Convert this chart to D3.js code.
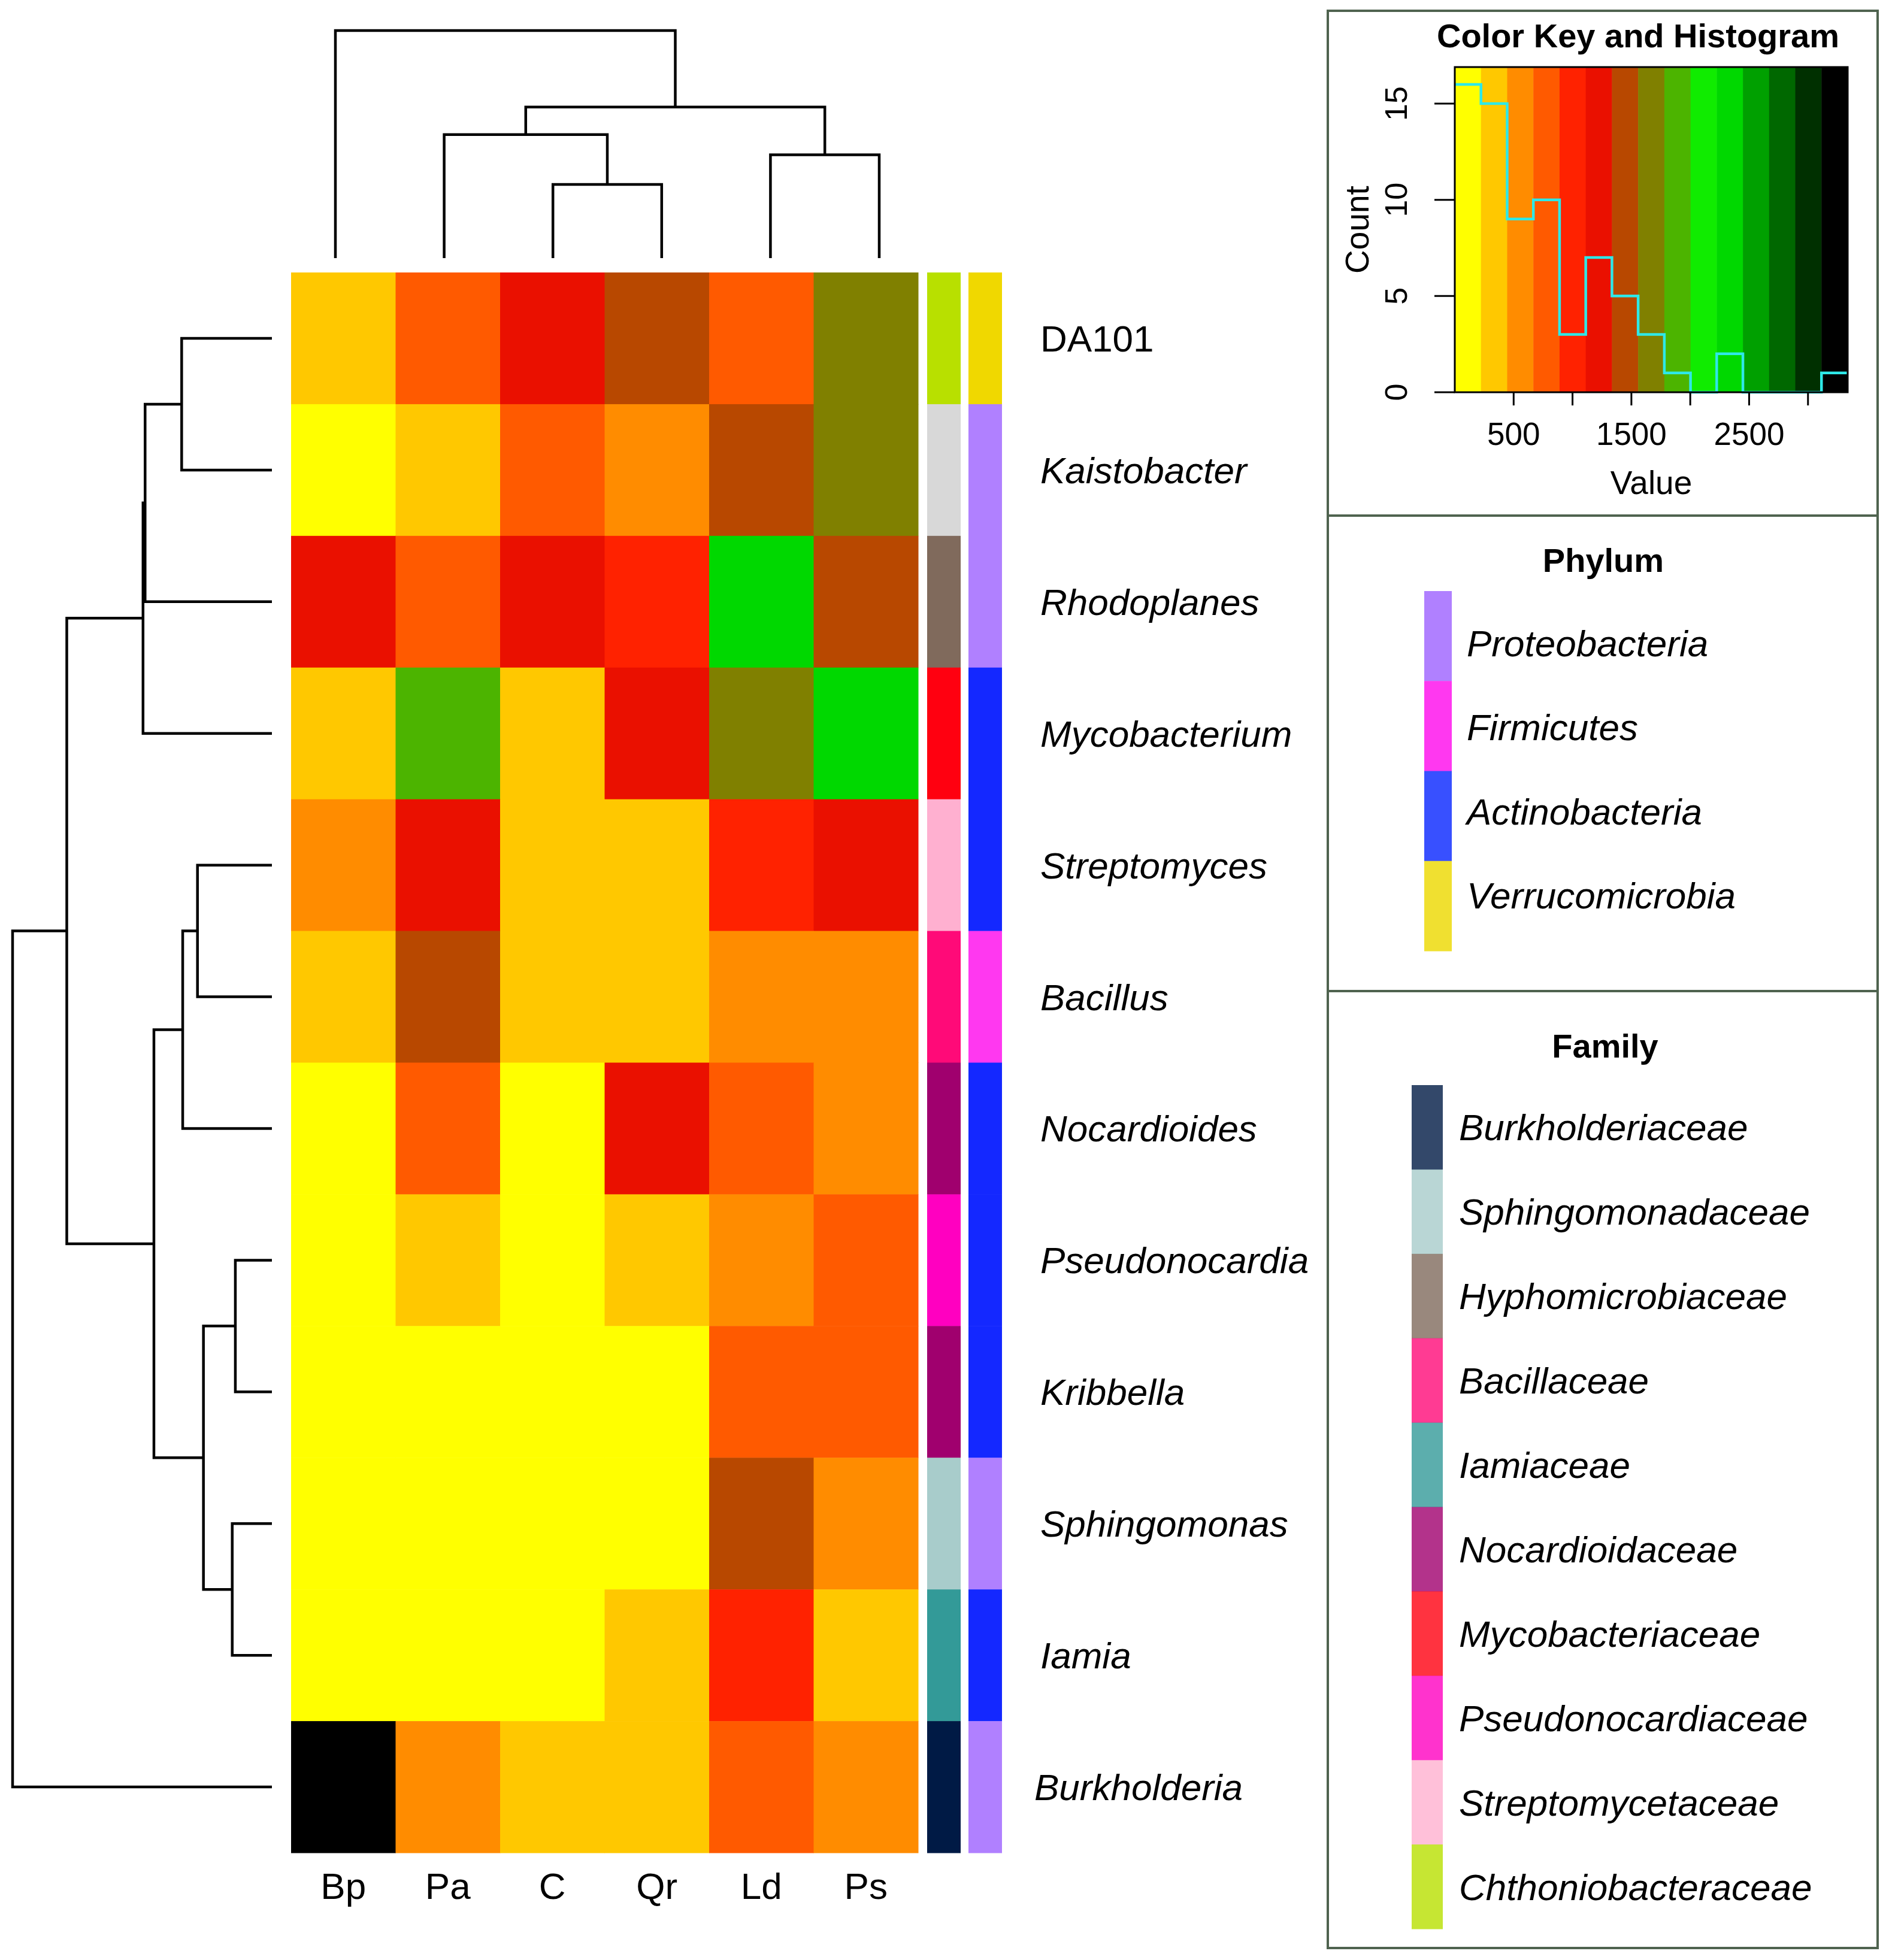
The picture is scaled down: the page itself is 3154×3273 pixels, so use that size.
<!DOCTYPE html>
<html><head><meta charset="utf-8">
<script src="https://cdn.jsdelivr.net/npm/d3@7"></script>
<style>
body{margin:0;background:#fff}
svg{display:block}
text{font-family:"Liberation Sans",Arial,Helvetica,sans-serif;fill:#000}
</style>
</head><body>
<svg id="chart" width="3154" height="3273"></svg>
<script>
// ---------------- DATA ----------------
const rowLabels = ["DA101","Kaistobacter","Rhodoplanes","Mycobacterium","Streptomyces","Bacillus",
  "Nocardioides","Pseudonocardia","Kribbella","Sphingomonas","Iamia","Burkholderia"];
const colLabels = ["Bp","Pa","C","Qr","Ld","Ps"];
const values = [
  [ 310,  760, 1205, 1420,  745, 1640],
  [  95,  365,  820,  560, 1390, 1610],
  [1260,  705, 1180,  960, 2310, 1470],
  [ 290, 1890,  405, 1230, 1700, 2390],
  [ 520, 1150,  330,  300, 1010, 1280],
  [ 260, 1450,  380,  420,  600,  540],
  [  60,  850,   40, 1170,  790,  510],
  [  30,  395,   20,  350,  580,  710],
  [  15,   80,   10,  120,  690,  760],
  [  25,  110,   35,  150, 1360,  630],
  [  50,  140,   70,  270,  960,  440],
  [3337,  490,  430,  385,  840,  610]
];
const keyColors = ["#ffff00","#ffc800","#ff8c00","#ff5a00","#ff2200","#ea1000","#b84800","#808000",
  "#4cb400","#10ec00","#00d800","#00a000","#006800","#003000","#000000"];
const keyMin = 0, keyMax = 3337;
const keyTicks = [500,1000,1500,2000,2500,3000];
const keyTickLabels = [500,1500,2500];
const countTicks = [0,5,10,15];
const countMax = 16.9;

const rowFamily = ["Chthoniobacteraceae", null, "Hyphomicrobiaceae", "Mycobacteriaceae", "Streptomycetaceae",
  "Bacillaceae", "Nocardioidaceae", "Pseudonocardiaceae", "Nocardioidaceae", "Sphingomonadaceae",
  "Iamiaceae", "Burkholderiaceae"];
const rowPhylum = ["Verrucomicrobia","Proteobacteria","Proteobacteria","Actinobacteria","Actinobacteria",
  "Firmicutes","Actinobacteria","Actinobacteria","Actinobacteria","Proteobacteria","Actinobacteria","Proteobacteria"];
const familyNames = ["Burkholderiaceae","Sphingomonadaceae","Hyphomicrobiaceae","Bacillaceae","Iamiaceae",
  "Nocardioidaceae","Mycobacteriaceae","Pseudonocardiaceae","Streptomycetaceae","Chthoniobacteraceae"];
const familyColors = ["#001a45","#a8cccb","#806a5c","#ff0a78","#339a98","#a0006e","#ff0010","#ff00c0","#ffb0d0","#b8e000"];
const unclassifiedColor = "#d8d8d8";
const phylumNames = ["Proteobacteria","Firmicutes","Actinobacteria","Verrucomicrobia"];
const phylumColors = ["#b080ff","#ff38f0","#1428ff","#f0d800"];
const phylumLegendColors = ["#b080ff","#ff38f0","#3850ff","#f0e030"];

// dendrograms: [left, right, height]
const rowTree = [[[[["DA101","Kaistobacter",0.348],"Rhodoplanes",0.489],"Mycobacterium",0.497],
  [[["Streptomyces","Bacillus",0.287],"Nocardioides",0.344],
   [["Pseudonocardia","Kribbella",0.141],["Sphingomonas","Iamia",0.153],0.264],0.455],0.791],
  "Burkholderia",1.0];
const colTree = ["Bp",[["Pa",["C","Qr",0.324],0.543],["Ld","Ps",0.454],0.664],1.0];

// ---------------- DRAW ----------------
const svg = d3.select("#chart");
const FONT = 62;

const x = d3.scaleBand().domain(colLabels).range([486, 1533]);
const y = d3.scaleBand().domain(rowLabels).range([455, 3094]);
const color = d3.scaleQuantize().domain([keyMin, keyMax]).range(keyColors);

// heatmap cells
const cells = [];
rowLabels.forEach((r, i) => colLabels.forEach((c, j) => cells.push({r, c, v: values[i][j]})));
svg.append("g").selectAll("rect").data(cells).join("rect")
  .attr("x", d => x(d.c)).attr("y", d => y(d.r))
  .attr("width", x.bandwidth() + 0.5).attr("height", y.bandwidth() + 0.5)
  .attr("fill", d => color(d.v));

// side color bars
const famColor = d3.scaleOrdinal().domain(familyNames).range(familyColors);
const phyColor = d3.scaleOrdinal().domain(phylumNames).range(phylumColors);
const phyLegColor = d3.scaleOrdinal().domain(phylumNames).range(phylumLegendColors);
svg.append("g").selectAll("rect").data(rowLabels).join("rect")
  .attr("x", 1548).attr("width", 56)
  .attr("y", d => y(d)).attr("height", y.bandwidth() + 0.5)
  .attr("fill", (d, i) => rowFamily[i] ? famColor(rowFamily[i]) : unclassifiedColor);
svg.append("g").selectAll("rect").data(rowLabels).join("rect")
  .attr("x", 1617).attr("width", 56)
  .attr("y", d => y(d)).attr("height", y.bandwidth() + 0.5)
  .attr("fill", (d, i) => phyColor(rowPhylum[i]));

// row labels
svg.append("g").selectAll("text").data(rowLabels).join("text")
  .attr("x", d => d === "Burkholderia" ? 1727 : 1737).attr("y", d => y(d) + y.bandwidth() / 2 + 22)
  .attr("font-size", FONT)
  .attr("font-style", d => d === "DA101" ? "normal" : "italic")
  .text(d => d);

// column labels
svg.append("g").selectAll("text").data(colLabels).join("text")
  .attr("x", d => x(d) + x.bandwidth() / 2).attr("y", 3171)
  .attr("text-anchor", "middle").attr("font-size", FONT)
  .text(d => d);

// dendrograms
function layoutTree(node, leafPos, paths, draw) {
  if (typeof node === "string") return {p: leafPos(node), h: 0};
  const a = layoutTree(node[0], leafPos, paths, draw);
  const b = layoutTree(node[1], leafPos, paths, draw);
  const h = node[2];
  paths.push(draw(a, b, h));
  return {p: (a.p + b.p) / 2, h};
}
// row dendrogram (left)
const rowH = d3.scaleLinear().domain([0, 1]).range([454, 21]);
const rowPaths = [];
layoutTree(rowTree, n => y(n) + y.bandwidth() / 2, rowPaths,
  (a, b, h) => `M${rowH(a.h)},${a.p}H${rowH(h)}V${b.p}H${rowH(b.h)}`);
svg.append("g").selectAll("path").data(rowPaths).join("path")
  .attr("d", d => d).attr("fill", "none").attr("stroke", "#000").attr("stroke-width", 4.5);

// column dendrogram (top)
const colLeaf = d3.scalePoint().domain(colLabels).range([560, 1468]);
const colH = d3.scaleLinear().domain([0, 1]).range([431, 51]);
const colPaths = [];
layoutTree(colTree, n => colLeaf(n), colPaths,
  (a, b, h) => `M${a.p},${colH(a.h)}V${colH(h)}H${b.p}V${colH(b.h)}`);
svg.append("g").selectAll("path").data(colPaths).join("path")
  .attr("d", d => d).attr("fill", "none").attr("stroke", "#000").attr("stroke-width", 4.5);

// ---------------- RIGHT PANELS ----------------
const boxStroke = "#4f634f";
[[18, 861], [861, 1655], [1655, 3253]].forEach(([y0, y1]) => {
  svg.append("rect").attr("x", 2217).attr("y", y0).attr("width", 3135 - 2217).attr("height", y1 - y0)
    .attr("fill", "none").attr("stroke", boxStroke).attr("stroke-width", 4);
});

// Color key and histogram
const kx = d3.scaleLinear().domain([keyMin, keyMax]).range([2429, 3085]);
const ky = d3.scaleLinear().domain([0, countMax]).range([655, 112]);
const binW = (keyMax - keyMin) / keyColors.length;
const breaks = d3.range(keyColors.length + 1).map(i => keyMin + i * binW);
svg.append("g").selectAll("rect").data(keyColors).join("rect")
  .attr("x", (d, i) => kx(breaks[i])).attr("width", (d, i) => kx(breaks[i + 1]) - kx(breaks[i]) + 0.5)
  .attr("y", ky(countMax)).attr("height", ky(0) - ky(countMax))
  .attr("fill", d => d);

const bins = d3.bin().domain([keyMin, keyMax]).thresholds(breaks.slice(1, -1))(values.flat());
const histPts = bins.map(b => [b.x0, b.length]);
histPts.push([keyMax, bins[bins.length - 1].length]);
svg.append("path")
  .attr("d", d3.line().x(d => kx(d[0])).y(d => ky(d[1])).curve(d3.curveStepAfter)(histPts))
  .attr("fill", "none").attr("stroke", "#2ee8e8").attr("stroke-width", 4.5);

svg.append("rect").attr("x", kx(keyMin)).attr("y", ky(countMax))
  .attr("width", kx(keyMax) - kx(keyMin)).attr("height", ky(0) - ky(countMax))
  .attr("fill", "none").attr("stroke", "#000").attr("stroke-width", 3);

// y axis
const yAx = svg.append("g");
yAx.selectAll("line").data(countTicks).join("line")
  .attr("x1", 2395).attr("x2", kx(keyMin)).attr("y1", d => ky(d)).attr("y2", d => ky(d))
  .attr("stroke", "#000").attr("stroke-width", 3);
yAx.selectAll("text").data(countTicks).join("text")
  .attr("transform", d => `translate(2349,${ky(d)}) rotate(-90)`)
  .attr("text-anchor", "middle").attr("font-size", 52).text(d => d);
svg.append("text").attr("transform", `translate(2285,${(ky(0) + ky(countMax)) / 2}) rotate(-90)`)
  .attr("text-anchor", "middle").attr("font-size", 55).text("Count");

// x axis
const xAx = svg.append("g");
xAx.selectAll("line").data(keyTicks).join("line")
  .attr("x1", d => kx(d)).attr("x2", d => kx(d)).attr("y1", ky(0)).attr("y2", ky(0) + 22)
  .attr("stroke", "#000").attr("stroke-width", 3);
xAx.selectAll("text").data(keyTickLabels).join("text")
  .attr("x", d => kx(d)).attr("y", 743)
  .attr("text-anchor", "middle").attr("font-size", 53).text(d => d);
svg.append("text").attr("x", (kx(keyMin) + kx(keyMax)) / 2).attr("y", 825)
  .attr("text-anchor", "middle").attr("font-size", 55).text("Value");

svg.append("text").attr("x", 2735).attr("y", 79).attr("text-anchor", "middle")
  .attr("font-size", 56).attr("font-weight", "bold").text("Color Key and Histogram");

// Phylum legend
svg.append("text").attr("x", 2677).attr("y", 955).attr("text-anchor", "middle")
  .attr("font-size", 56).attr("font-weight", "bold").text("Phylum");
const phyY = d3.scaleBand().domain(phylumNames).range([987, 1588]);
svg.append("g").selectAll("rect").data(phylumNames).join("rect")
  .attr("x", 2378).attr("width", 46).attr("y", d => phyY(d)).attr("height", phyY.bandwidth() + 0.5)
  .attr("fill", d => phyLegColor(d));
const phyLabelY = d3.scalePoint().domain(phylumNames).range([1096, 1517]);
svg.append("g").selectAll("text").data(phylumNames).join("text")
  .attr("x", 2449).attr("y", d => phyLabelY(d))
  .attr("font-size", FONT).attr("font-style", "italic").text(d => d);

// Family legend
svg.append("text").attr("x", 2680).attr("y", 1766).attr("text-anchor", "middle")
  .attr("font-size", 56).attr("font-weight", "bold").text("Family");
const famY = d3.scaleBand().domain(familyNames).range([1812, 3221]);
svg.append("g").selectAll("rect").data(familyNames).join("rect")
  .attr("x", 2357).attr("width", 52).attr("y", d => famY(d)).attr("height", famY.bandwidth() + 0.5)
  .attr("fill", d => famColor(d)).attr("fill-opacity", 0.8);
svg.append("g").selectAll("text").data(familyNames).join("text")
  .attr("x", 2436).attr("y", d => famY(d) + famY.bandwidth() / 2 + 22)
  .attr("font-size", FONT).attr("font-style", "italic").text(d => d);
</script>
</body></html>
